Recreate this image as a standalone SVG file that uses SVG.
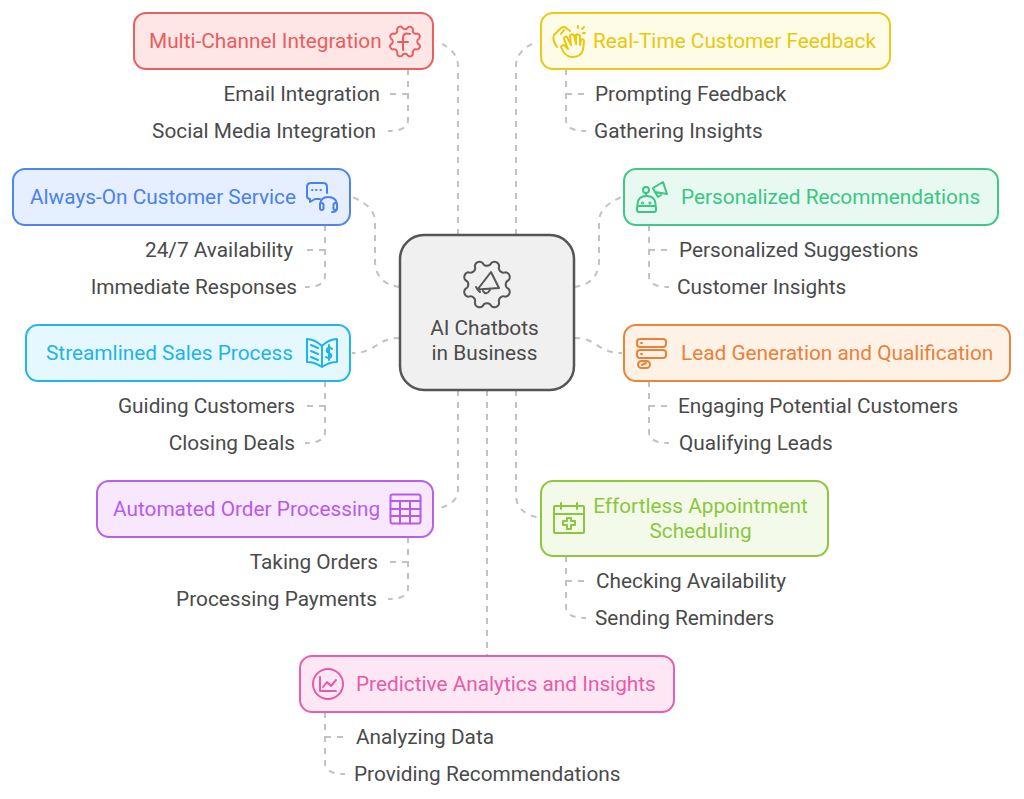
<svg xmlns="http://www.w3.org/2000/svg" width="1024" height="799" viewBox="0 0 1024 799">
<style>
text{font-family:Roboto,"Liberation Sans",sans-serif;font-size:20.8px}
.c{fill:#4a4a4a}
.m{text-anchor:middle}
.e{text-anchor:end}
.box{stroke-width:2}
.ic{fill:none;stroke-width:2;stroke-linecap:round;stroke-linejoin:round}
#connectors path{fill:none;stroke:#c2c2c2;stroke-width:2;stroke-dasharray:6 6}
</style>
<defs>
<path id="gear" d="M20.6 -4.100A4.500 4.500 0 0 1 20.600 4.100A4.500 4.500 0 0 0 17.500 11.700A4.500 4.500 0 0 1 11.700 17.500A4.500 4.500 0 0 0 4.100 20.600A4.500 4.500 0 0 1 -4.100 20.600A4.500 4.500 0 0 0 -11.700 17.500A4.500 4.500 0 0 1 -17.500 11.700A4.500 4.500 0 0 0 -20.600 4.100A4.500 4.500 0 0 1 -20.600 -4.100A4.500 4.500 0 0 0 -17.500 -11.700A4.500 4.500 0 0 1 -11.700 -17.500A4.500 4.500 0 0 0 -4.100 -20.600A4.500 4.500 0 0 1 4.100 -20.600A4.500 4.500 0 0 0 11.700 -17.500A4.500 4.500 0 0 1 17.500 -11.700A4.500 4.500 0 0 0 20.600 -4.100Z"/>
</defs>
<rect width="1024" height="799" fill="#fff"/>
<g id="connectors">
<path d="M458 235V66Q458 50 436 41"/>
<path d="M516 235V66Q516 50 538 41"/>
<path d="M400 287Q375 284 375 260V222Q375 206 352 197"/>
<path d="M574 287Q599 284 599 260V222Q599 206 622 197"/>
<path d="M400 338C375 338 378 353 352 353"/>
<path d="M574 338C599 338 596 353 622 353"/>
<path d="M458 390V490Q458 504 436 509"/>
<path d="M516 390V495Q516 514 541 518"/>
<path d="M487 390V656"/>
<path d="M408 69V120Q408 131 388 131"/>
<path d="M408 94H390"/>
<path d="M566 69V120Q566 131 586 131"/>
<path d="M566 94H584"/>
<path d="M325 225V276Q325 287 305 287"/>
<path d="M325 250H307"/>
<path d="M649 225V276Q649 287 669 287"/>
<path d="M649 250H667"/>
<path d="M325 381V432Q325 443 305 443"/>
<path d="M325 406H307"/>
<path d="M649 381V432Q649 443 669 443"/>
<path d="M649 406H667"/>
<path d="M408 537V588Q408 599 388 599"/>
<path d="M408 562H390"/>
<path d="M566 556V607Q566 618 586 618"/>
<path d="M566 581H584"/>
<path d="M325 712V763Q325 774 345 774"/>
<path d="M325 737H343"/>
</g>
<g id="center">
<rect x="400" y="235" width="174" height="155" rx="24" fill="#f0f0f0" stroke="#555" stroke-width="2.5"/>
<g class="ic" stroke="#555">
<use href="#gear" transform="translate(487 284.500) rotate(22.500) scale(1.040)" stroke-width="1.900"/>
<path d="M491 272L499 288L477.500 289.500ZM477.500 289.500L476 287M477.500 289.500L480 292M483 291Q486 296 490 290"/>
</g>
<text class="m" x="484.500" y="335" fill="#4a4a4a">AI Chatbots</text>
<text class="m" x="484.500" y="360" fill="#4a4a4a">in Business</text>
</g>
<g id="multi-channel">
<rect class="box" x="134" y="13" width="299" height="56" rx="12" fill="#ffe6e6" stroke="#e86060"/>
<text x="149" y="48" fill="#e85d5d">Multi-Channel Integration</text>
<g class="ic" stroke="#e85d5d"><use href="#gear" transform="translate(405 41.500) rotate(22.500) scale(.680)" stroke-width="2.900"/><path d="M410 34Q404 32 403 37V50M398 42H408"/></g>
<text class="c e" x="380" y="101">Email Integration</text>
<text class="c e" x="376" y="138">Social Media Integration</text>
</g>
<g id="real-time">
<rect class="box" x="541" y="13" width="349" height="56" rx="12" fill="#fefbe6" stroke="#e8cb1a"/>
<text x="593" y="48" fill="#e8c80f">Real-Time Customer Feedback</text>
<g class="ic" stroke="#e8c80f"><path d="M561 47Q563 43 566 47L568 49L564 39Q564 36 567 37L571 45L570 36Q571 33 574 35L576 44L576 35Q578 33 580 36L580 45L581 40Q583 38 584 41L583 50Q581 57 572 57Q565 57 561 47Z"/><path d="M557 47Q552 40 554 35L561 28Q564 26 566 28L570 31M561 34L564 30"/><path d="M578 28V26M582 29L584 27M583 33H585"/></g>
<text class="c" x="595" y="101">Prompting Feedback</text>
<text class="c" x="594" y="138">Gathering Insights</text>
</g>
<g id="always-on">
<rect class="box" x="13" y="169" width="337" height="56" rx="12" fill="#e5efff" stroke="#4f86e8"/>
<text x="30" y="204" fill="#4a82e8">Always-On Customer Service</text>
<g class="ic" stroke="#4a82e8"><path d="M327 193V187Q327 183 323 183H311Q307 183 307 187V196Q307 199 310 199V202L315 199H320"/><path d="M312 190H312.500M316 190H316.500M320.500 190H321"/><path d="M320 204Q321 197 328 197Q336 197 337 204V208Q337 212 332 212"/><rect x="320" y="203" width="3.500" height="7" rx="1.700"/><rect x="333.500" y="203" width="3.500" height="7" rx="1.700"/></g>
<text class="c e" x="293" y="257">24/7 Availability</text>
<text class="c e" x="297" y="294">Immediate Responses</text>
</g>
<g id="personalized">
<rect class="box" x="624" y="169" width="374" height="56" rx="12" fill="#e8f9f1" stroke="#42c68a"/>
<text x="681" y="204" fill="#3cc585">Personalized Recommendations</text>
<g class="ic" stroke="#3cc585"><rect x="637" y="206" width="19" height="6" rx="2"/><path d="M637.500 206V204Q638 196 646.500 196Q655 196 655.500 204V206"/><circle cx="646" cy="190" r="3"/><path d="M646 193V196M653 188L663 182L667 194L655 192ZM655 192L658 197L661 195"/><circle cx="642.500" cy="203" r=".6"/><circle cx="650" cy="203" r=".6"/></g>
<text class="c" x="679" y="257">Personalized Suggestions</text>
<text class="c" x="677" y="294">Customer Insights</text>
</g>
<g id="streamlined">
<rect class="box" x="26" y="325" width="324" height="56" rx="12" fill="#e5f8ff" stroke="#22b6e8"/>
<text x="46" y="360" fill="#1fb4e8">Streamlined Sales Process</text>
<g class="ic" stroke="#1fb4e8"><path d="M322 346Q314 339 307 339V362Q315 362 322 367Q329 362 337 362V339Q329 339 322 346V367M311 345L318 348M311 351L318 354M311 357L318 360"/><path d="M332 349Q329 346 327 349Q326 352 329 353Q332 354 331 357Q329 359 326 357M329 345V360"/></g>
<text class="c e" x="295" y="413">Guiding Customers</text>
<text class="c e" x="295" y="450">Closing Deals</text>
</g>
<g id="lead-gen">
<rect class="box" x="624" y="325" width="386" height="56" rx="12" fill="#fef1e6" stroke="#e8863c"/>
<text x="681" y="360" fill="#e8823a">Lead Generation and Qualification</text>
<g class="ic" stroke="#e8823a"><rect x="637" y="339" width="29" height="8" rx="3"/><rect x="637" y="350" width="29" height="8" rx="3"/><rect x="638" y="361" width="12" height="7" rx="3.500"/><path d="M641 343H642M641 354H642M642 365L646 363"/></g>
<text class="c" x="678" y="413">Engaging Potential Customers</text>
<text class="c" x="679" y="450">Qualifying Leads</text>
</g>
<g id="order">
<rect class="box" x="97" y="481" width="336" height="56" rx="12" fill="#f7e7ff" stroke="#b960e6"/>
<text x="113" y="516" fill="#b85ce6">Automated Order Processing</text>
<g class="ic" stroke="#b85ce6"><rect x="390.500" y="494.500" width="30" height="29" rx="2"/><path d="M390.500 501H420.500M390.500 509H420.500M390.500 516H420.500M400 501V523.500M410 501V523.500"/></g>
<text class="c e" x="378" y="569">Taking Orders</text>
<text class="c e" x="377" y="606">Processing Payments</text>
</g>
<g id="appointment">
<rect class="box" x="541" y="481" width="287" height="75" rx="12" fill="#f3fae9" stroke="#8fc640"/>
<text class="m" x="700.500" y="513" fill="#8cc63f">Effortless Appointment</text>
<text class="m" x="700.500" y="538" fill="#8cc63f">Scheduling</text>
<g class="ic" stroke="#8cc63f"><rect x="554" y="506" width="30" height="27" rx="1"/><path d="M554 514H584M561 503V509M577 503V509M567 518H571V521H575V525H571V529H567V525H563V521H567Z"/></g>
<text class="c" x="596" y="588">Checking Availability</text>
<text class="c" x="595" y="625">Sending Reminders</text>
</g>
<g id="analytics">
<rect class="box" x="300" y="656" width="374" height="56" rx="12" fill="#fde7f4" stroke="#e660ab"/>
<text x="356" y="691" fill="#e65ca8">Predictive Analytics and Insights</text>
<g class="ic" stroke="#e65ca8"><circle cx="328" cy="684" r="15"/><path d="M320 677V691H336M323 687L327 682L331 686L336 680"/></g>
<text class="c" x="356" y="744">Analyzing Data</text>
<text class="c" x="354" y="781">Providing Recommendations</text>
</g>
</svg>
